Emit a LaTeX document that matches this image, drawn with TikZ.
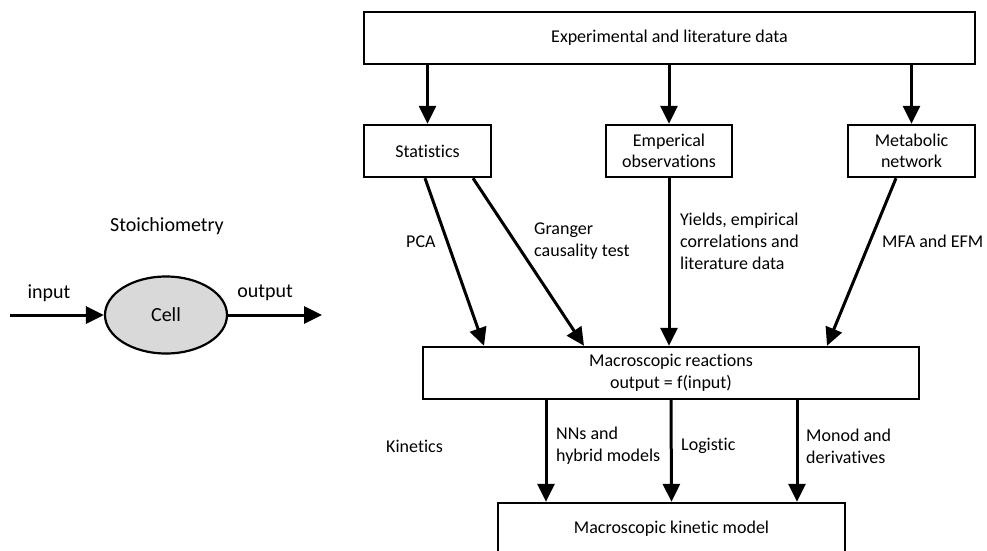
\documentclass[tikz,border=0pt]{standalone}
\usepackage{fontspec}
\setmainfont{Carlito}[Ligatures=NoCommon]
\usetikzlibrary{arrows.meta,shapes.geometric}
\definecolor{cellgray}{RGB}{217,217,217}
\tikzset{
  box/.style={draw, line width=2.4pt, inner sep=0pt, align=center, font=\fontsize{18}{21.5}\selectfont},
  lbl/.style={inner sep=0pt, anchor=west, align=left, font=\fontsize{18}{22}\selectfont},
  arr/.style={line width=3pt, -{Triangle[length=18pt,width=17pt]}},
}
\begin{document}
\begin{tikzpicture}[x=1pt,y=-1pt]
\useasboundingbox (0,0) rectangle (987,551);
\clip (0,0) rectangle (987,551);
% left part
\node[font=\fontsize{20}{24}\selectfont, inner sep=0pt] (stoich) at (167,226) {Stoichiometry};
\node[ellipse, draw, line width=2.2pt, fill=cellgray, minimum width=122pt, minimum height=77pt, inner sep=0pt, font=\fontsize{20}{24}\selectfont] (cell) at (166,315) {Cell};
\node[font=\fontsize{20}{24}\selectfont, inner sep=0pt] (inlbl) at (49,293) {input};
\node[font=\fontsize{20}{24}\selectfont, inner sep=0pt] (outlbl) at (265,293) {output};
\coordinate (instart) at (10,315);
\coordinate (outend) at (322,315);
\draw[arr] (instart) -- (cell.west);
\draw[arr] (cell.east) -- (outend);
% boxes
\node[box, minimum width=611pt, minimum height=52pt] (top) at (669.5,38) {Experimental and literature data};
\node[box, minimum width=127pt, minimum height=52pt] (stats) at (427.5,151) {Statistics};
\node[box, minimum width=126pt, minimum height=52pt] (emp) at (669,151) {Emperical\\observations};
\node[box, minimum width=127pt, minimum height=52pt] (met) at (911.5,151) {Metabolic\\network};
\node[box, minimum width=496pt, minimum height=52pt] (macro) at (671,373) {Macroscopic reactions\\output = f(input)};
\node[box, minimum width=347pt, minimum height=52pt] (kin) at (671.5,529) {Macroscopic kinetic model};
% arrows top
\draw[arr] (top.south -| stats.south) -- (stats.north);
\draw[arr] (top.south -| emp.south) -- (emp.north);
\draw[arr] (top.south -| met.south) -- (met.north);
% arrows to macro
\draw[arr] ([xshift=-2.5pt]stats.south) -- ([xshift=-187pt]macro.north);
\draw[arr] ([xshift=45.5pt]stats.south) -- ([xshift=-87pt]macro.north);
\draw[arr] (emp.south) -- (emp.south |- macro.north);
\draw[arr] ([xshift=-15.5pt]met.south) -- ([xshift=156pt]macro.north);
% arrows to kinetic model
\draw[arr] ([xshift=-125pt]macro.south) -- ([xshift=-125.5pt]kin.north);
\draw[arr] (macro.south) -- (kin.north);
\draw[arr] ([xshift=126pt]macro.south) -- ([xshift=125.5pt]kin.north);
% labels
\node[lbl] (pca) at (406,242) {PCA};
\node[lbl] (granger) at (534,241) {Granger\\causality test};
\node[lbl] (yields) at (680,241) {Yields, empirical\\correlations and\\literature data};
\node[lbl] (mfa) at (882,241) {MFA and EFM};
\node[lbl] (kinetics) at (386,446) {Kinetics};
\node[lbl] (nns) at (556,446) {NNs and\\hybrid models};
\node[lbl] (logistic) at (681,446) {Logistic};
\node[lbl] (monod) at (806,446) {Monod and\\derivatives};
\end{tikzpicture}
\end{document}
